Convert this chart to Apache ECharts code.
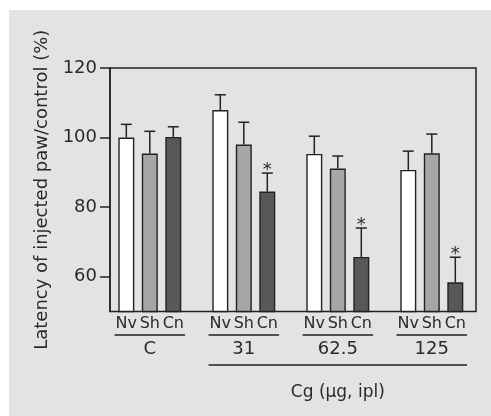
<!DOCTYPE html>
<html>
<head>
<meta charset="utf-8">
<script src="https://cdn.jsdelivr.net/npm/echarts@6/dist/echarts.min.js"></script>
<style>
html,body{margin:0;padding:0;background:#ffffff;}
#chart{width:491px;height:416px;}
</style>
</head>
<body>
<div id="chart"></div>
<script>
// ---- data ----
const groups = ['C', '31', '62.5', '125'];
const subjects = ['Nv', 'Sh', 'Cn'];
const nv = [100.0, 107.9, 95.3, 90.7];
const nvErr = [3.8, 4.4, 5.1, 5.4];
const sh = [95.4, 98.0, 91.1, 95.5];
const shErr = [6.4, 6.4, 3.6, 5.5];
const cn = [100.2, 84.5, 65.7, 58.4];
const cnErr = [2.9, 5.3, 8.3, 7.2];
const cnSig = [false, true, true, true];
const yTicks = [60, 80, 100, 120];
const yTitle = 'Latency of injected paw/control (%)';
const doseTitle = 'Cg (µg, ipl)';
const dosedGroups = [1, 2, 3];

// ---- build ----
const FONT = '"DejaVu Sans", sans-serif';
const TXT = '#2a2a2a';
const LINE = '#222222';
const YMIN = 50, YMAX = 120;
const slot = (g, k) => g * 4 + k + 1;
const values = [nv, sh, cn];
const errs = [nvErr, shErr, cnErr];
const colors = ['#ffffff', '#a6a6a6', '#585858'];

const barSeries = subjects.map((s, k) => ({
  type: 'bar',
  name: s,
  barWidth: 16,
  barGap: '-100%',
  itemStyle: { color: colors[k], borderColor: LINE, borderWidth: 1.4 },
  data: groups.map((g, gi) => [slot(gi, k), values[k][gi]]),
  z: 2
}));

const errData = [];
subjects.forEach((s, k) => groups.forEach((g, gi) => {
  errData.push([slot(gi, k), values[k][gi], errs[k][gi]]);
}));

const starData = [];
groups.forEach((g, gi) => { if (cnSig[gi]) starData.push([slot(gi, 2), cn[gi] + cnErr[gi]]); });

const subjData = [];
groups.forEach((g, gi) => subjects.forEach((s, k) => subjData.push([slot(gi, k), k])));
const groupData = groups.map((g, gi) => [slot(gi, 1), gi]);
const doseData = [[slot(dosedGroups[0], 0), slot(dosedGroups[dosedGroups.length - 1], 2)]];

function errItem(params, api) {
  const x = api.value(0), v = api.value(1), e = api.value(2);
  const b = api.coord([x, v]), t = api.coord([x, v + e]);
  return { type: 'group', children: [
    { type: 'line', shape: { x1: b[0], y1: b[1], x2: t[0], y2: t[1] }, style: { stroke: LINE, lineWidth: 1.5 } },
    { type: 'line', shape: { x1: t[0] - 5.5, y1: t[1], x2: t[0] + 5.5, y2: t[1] }, style: { stroke: LINE, lineWidth: 1.5 } }
  ]};
}

const option = {
  animation: false,
  backgroundColor: '#ffffff',
  graphic: [{
    type: 'rect', z: -100, silent: true,
    shape: { x: 9, y: 10, width: 482, height: 406 },
    style: { fill: '#e3e3e3' }
  }],
  grid: {
    left: 110, top: 68, width: 366, height: 243.5,
    show: true, borderColor: LINE, borderWidth: 1.5, backgroundColor: 'transparent'
  },
  xAxis: {
    type: 'value', min: 0.306, max: 15.881,
    axisLine: { show: false, onZero: false }, axisTick: { show: false },
    axisLabel: { show: false }, splitLine: { show: false }
  },
  yAxis: {
    type: 'value', min: YMIN, max: YMAX,
    name: yTitle, nameLocation: 'middle', nameGap: 52, nameRotate: 90,
    nameTextStyle: { fontFamily: FONT, fontSize: 18, color: TXT },
    axisLine: { show: true, onZero: false, lineStyle: { color: LINE, width: 1.5 } },
    axisTick: { show: true, length: 10, customValues: yTicks, lineStyle: { color: LINE, width: 1.5 } },
    axisLabel: { customValues: yTicks, margin: 13, fontFamily: FONT, fontSize: 18, color: TXT },
    splitLine: { show: false }
  },
  series: [
    ...barSeries,
    {
      type: 'custom', clip: false, z: 3,
      dimensions: ['x', 'y', 'err'],
      encode: { x: 0, y: 1 },
      data: errData,
      renderItem: errItem
    },
    {
      type: 'custom', clip: false, z: 3,
      data: starData,
      renderItem: (params, api) => {
        const t = api.coord([api.value(0), api.value(1)]);
        return { type: 'text', style: { text: '*', x: t[0], y: t[1] - 3, align: 'center', verticalAlign: 'middle', font: '18px ' + FONT, fill: TXT } };
      }
    },
    {
      type: 'custom', clip: false, z: 3,
      data: subjData,
      renderItem: (params, api) => {
        const p = api.coord([api.value(0), YMIN]);
        return { type: 'text', style: { text: subjects[api.value(1)], x: p[0], y: p[1] + 12.5, align: 'center', verticalAlign: 'middle', font: '16px ' + FONT, fill: TXT } };
      }
    },
    {
      type: 'custom', clip: false, z: 3,
      data: groupData,
      renderItem: (params, api) => {
        const c = api.value(0);
        const p = api.coord([c, YMIN]);
        const a = api.coord([c - 1.5, YMIN]), b = api.coord([c + 1.5, YMIN]);
        return { type: 'group', children: [
          { type: 'line', shape: { x1: a[0], y1: p[1] + 23.5, x2: b[0], y2: p[1] + 23.5 }, style: { stroke: LINE, lineWidth: 1.5 } },
          { type: 'text', style: { text: groups[api.value(1)], x: p[0], y: p[1] + 37.5, align: 'center', verticalAlign: 'middle', font: '18px ' + FONT, fill: TXT } }
        ]};
      }
    },
    {
      type: 'custom', clip: false, z: 3,
      data: doseData,
      renderItem: (params, api) => {
        const s = api.value(0), e = api.value(1);
        const a = api.coord([s - 0.5, YMIN]), b = api.coord([e + 0.5, YMIN]);
        const m = api.coord([(s + e) / 2, YMIN]);
        return { type: 'group', children: [
          { type: 'line', shape: { x1: a[0], y1: a[1] + 53.5, x2: b[0], y2: a[1] + 53.5 }, style: { stroke: LINE, lineWidth: 1.5 } },
          { type: 'text', style: { text: doseTitle, x: m[0], y: a[1] + 81, align: 'center', verticalAlign: 'middle', font: '17px ' + FONT, fill: TXT } }
        ]};
      }
    }
  ]
};

const chart = echarts.init(document.getElementById('chart'), null, { renderer: 'canvas' });
chart.setOption(option);
</script>
</body>
</html>
